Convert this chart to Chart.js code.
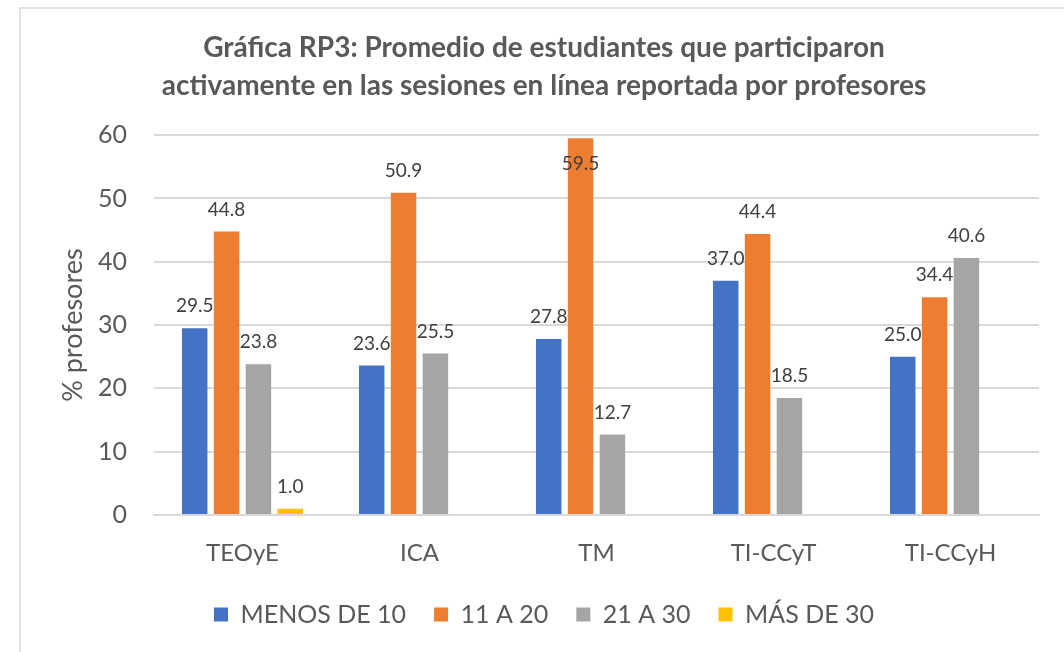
<!DOCTYPE html>
<html>
<head>
<meta charset="utf-8">
<script src="https://cdn.jsdelivr.net/npm/chart.js@4.4.1/dist/chart.umd.min.js"></script>
<style>
  html, body { margin: 0; padding: 0; background: #fff; overflow: hidden; }
  #frame {
    position: absolute; left: 19px; top: 7px;
    width: 1052px; height: 645px;
    border-left: 2px solid #e2e2e2; border-top: 2px solid #e2e2e2;
  }
  #wrap { position: absolute; left: 0; top: 0; width: 1050px; height: 643px; }
</style>
</head>
<body>
<div id="frame"><div id="wrap"><canvas id="chart"></canvas></div></div>
<script>
const categories = ['TEOyE', 'ICA', 'TM', 'TI-CCyT', 'TI-CCyH'];
const seriesNames = ['MENOS DE 10', '11 A 20', '21 A 30', 'MÁS DE 30'];
const menosDe10 = [29.5, 23.6, 27.8, 37.0, 25.0];
const de11a20 = [44.8, 50.9, 59.5, 44.4, 34.4];
const de21a30 = [23.8, 25.5, 12.7, 18.5, 40.6];
const masDe30 = [1.0, null, null, null, null];
const colors = ['#4472C4', '#ED7D31', '#A5A5A5', '#FFC000'];

const textColor = '#595959';
const fontName = 'Lato';

// etiquetas de valor encima de cada barra
const valueLabels = {
    id: 'valueLabels',
    afterDatasetsDraw(chart) {
        const ctx = chart.ctx;
        const area = chart.chartArea;
        ctx.save();
        ctx.font = '19px ' + fontName;
        ctx.fillStyle = '#404040';
        ctx.textAlign = 'center';
        ctx.textBaseline = 'middle';
        chart.data.datasets.forEach((ds, i) => {
            const meta = chart.getDatasetMeta(i);
            meta.data.forEach((bar, j) => {
                const v = ds.data[j];
                if (v === null || v === undefined) return;
                let y = bar.y - 22;
                if (y < area.top + 10) y = bar.y + 26;
                ctx.fillText(v.toFixed(1), bar.x, y);
            });
        });
        ctx.restore();
    }
};

const chartData = {
    labels: categories,
    datasets: [
        { label: seriesNames[0], data: menosDe10, backgroundColor: colors[0] },
        { label: seriesNames[1], data: de11a20, backgroundColor: colors[1] },
        { label: seriesNames[2], data: de21a30, backgroundColor: colors[2] },
        { label: seriesNames[3], data: masDe30, backgroundColor: colors[3] }
    ]
};

const config = {
    type: 'bar',
    data: chartData,
    options: {
        responsive: true,
        maintainAspectRatio: false,
        animation: false,
        categoryPercentage: 0.72,
        barPercentage: 0.8,
        layout: { padding: { left: 28, right: 32, top: 0, bottom: 15 } },
        plugins: {
            tooltip: { enabled: false },
            title: {
                display: true,
                text: ['Gráfica RP3: Promedio de estudiantes que participaron',
                       'activamente en las sesiones en línea reportada por profesores'],
                color: textColor,
                font: { family: fontName, size: 28, weight: 'bold', lineHeight: 1.36 },
                padding: { top: 20, bottom: 30 }
            },
            legend: {
                position: 'bottom',
                labels: {
                    color: textColor,
                    font: { family: fontName, size: 25 },
                    boxWidth: 14,
                    boxHeight: 14,
                    padding: 28
                }
            }
        },
        scales: {
            x: {
                grid: { display: false, drawTicks: false },
                border: { display: true, color: '#d9d9d9', width: 2 },
                ticks: { color: textColor, font: { family: fontName, size: 24 }, padding: 24 },
                afterFit(scale) {
                    scale.height = 59;
                }
            },
            y: {
                min: 0,
                max: 60,
                grid: { color: '#d9d9d9', lineWidth: 2, drawTicks: false },
                border: { display: false },
                ticks: { stepSize: 10, color: textColor, font: { family: fontName, size: 25 }, padding: 27 },
                title: {
                    display: true,
                    text: '% profesores',
                    color: textColor,
                    font: { family: fontName, size: 27 },
                    padding: { top: 8, bottom: 5 }
                },
                afterFit(scale) {
                    scale.width = 105;
                }
            }
        }
    },
    plugins: [valueLabels]
};

const chart = new Chart(document.getElementById('chart'), config);
</script>
</body>
</html>
